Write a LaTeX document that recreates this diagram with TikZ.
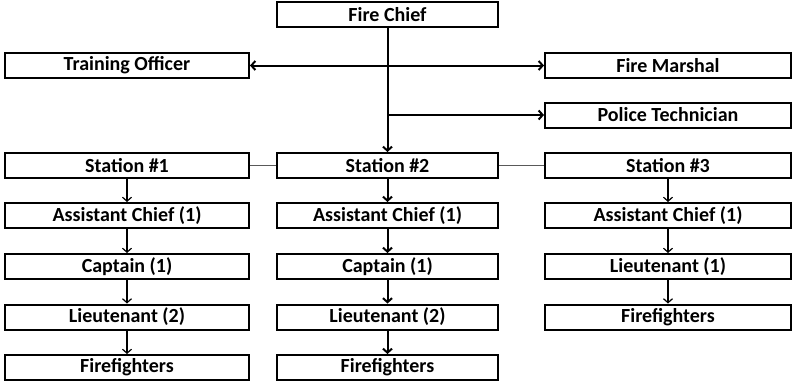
\documentclass[tikz,border=0pt]{standalone}
\usepackage{fontspec}
\setmainfont{Carlito}
\usetikzlibrary{arrows.meta}

\begin{document}
\begin{tikzpicture}[x=1pt,y=-1pt,
    box/.style={draw,line width=2pt,minimum height=25pt,inner sep=0pt,
        font=\bfseries\fontsize{20}{20}\selectfont},
    leftbox/.style={box,minimum width=244pt},
    midbox/.style={box,minimum width=221pt},
    rightbox/.style={box,minimum width=246pt},
    link/.style={-{Straight Barb[length=4pt,width=9pt]},line width=1.2pt},
    mainlink/.style={link,line width=2pt},
    sidelink/.style={line width=1pt,gray!70!black}]
\useasboundingbox (0,0) rectangle (793,381);

% Top of the chart
\node[midbox] (chief) at (387.5,14.5) {Fire Chief};
\node[leftbox] (train) at (127,65.5) {Training Officer};
\node[rightbox] (marshal) at (668,65.5) {Fire Marshal};
\node[rightbox] (police) at (668,115) {Police Technician};

% Station #1
\node[leftbox] (st1) at (127,165.5) {Station \#1};
\node[leftbox] (ac1) at (127,215.5) {Assistant Chief (1)};
\node[leftbox] (cap1) at (127,266.5) {Captain (1)};
\node[leftbox] (lt1) at (127,317) {Lieutenant (2)};
\node[leftbox] (ff1) at (127,367.5) {Firefighters};

% Station #2
\node[midbox] (st2) at (387.5,165.5) {Station \#2};
\node[midbox] (ac2) at (387.5,215.5) {Assistant Chief (1)};
\node[midbox] (cap2) at (387.5,266.5) {Captain (1)};
\node[midbox] (lt2) at (387.5,317) {Lieutenant (2)};
\node[midbox] (ff2) at (387.5,367.5) {Firefighters};

% Station #3
\node[rightbox] (st3) at (668,165.5) {Station \#3};
\node[rightbox] (ac3) at (668,215.5) {Assistant Chief (1)};
\node[rightbox] (lt3) at (668,266.5) {Lieutenant (1)};
\node[rightbox] (ff3) at (668,317) {Firefighters};

% Lines from the chief
\draw[mainlink] (chief) -- (st2);
\draw[mainlink,{Straight Barb[length=4pt,width=9pt]}-{Straight Barb[length=4pt,width=9pt]}] (train) -- (marshal);
\coordinate (tap) at (chief.south |- police);
\draw[mainlink] (tap) -- (police.west);

% Stations side by side
\draw[sidelink] (st1) -- (st2);
\draw[sidelink] (st2) -- (st3);

% Chains of command
\foreach \a/\b in {st1/ac1,ac1/cap1,cap1/lt1,lt1/ff1,st3/ac3,ac3/lt3,lt3/ff3}
    \draw[link] (\a) -- (\b);
\foreach \a/\b in {st2/ac2,ac2/cap2,cap2/lt2,lt2/ff2}
    \draw[mainlink] (\a) -- (\b);

\end{tikzpicture}
\end{document}
